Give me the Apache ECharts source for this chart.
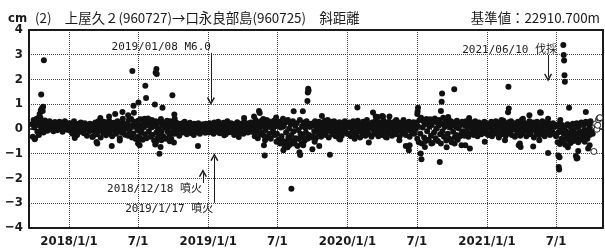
<!DOCTYPE html>
<html>
<head>
<meta charset="utf-8">
<script src="https://cdn.jsdelivr.net/npm/echarts@6.0.0/dist/echarts.min.js"></script>
<style>
html,body{margin:0;padding:0;background:#fff}
#main{width:605px;height:249px}
</style>
</head>
<body>
<div id="main"></div>
<script>
// 斜距離の変化 (cm)、2日おきの値を年ごとに
var start2017 = '2017-09-26';
var band2017 = [.18,-.32,.35,.05,-.38,.22,.41,-.12,.3,-.25,.12,.45,-.05,.28,.1,-.15,.2,.33,.02,.15,
  -.08,.25,.12,.3,-.02,.18,.08,.22,-.1,.15,.27,.05,.12,-.06,.2,.1,.28,.0,.16,.24,
  -.12,.08,.18,.3,.02,.14,-.04,.22,.1];
var start2018 = '2018-01-02';
var band2018 = [.12,-.08,.22,.05,-.2,.15,.3,-.1,.08,.18,-.25,.02,.2,.1,-.12,.25,-.05,.14,.06,-.18,.22,.0,.1,-.28,.16,.04,-.1,.2,.12,-.02,
  .08,-.3,.18,-.12,.25,.02,-.22,.12,.3,-.08,.05,-.35,.2,.1,-.15,.28,-.04,.14,-.26,.06,.22,-.1,.32,-.18,.0,.15,-.3,.1,.24,-.06,
  .18,-.2,.04,.3,-.12,.12,-.38,.2,.06,-.16,.26,-.08,.16,-.24,.1,.02,
  .2,-.28,.35,-.1,.05,.4,-.35,.15,-.2,.28,.1,-.42,.22,-.05,.32,-.3,.12,.38,-.15,.0,-.45,.25,.08,-.22,.3,-.38,.15,.42,-.1,.2,
  -.32,.05,.35,-.25,.18,-.48,.1,.3,-.15,.22,-.36,.02,.28,-.2,.4,-.1,.15,-.3,.25,.05,-.4,.18,.32,-.12,.08,-.25,.3,.1,-.18,.22,-.05,
  .15,-.2,.08,.25,-.12,.02,.2,-.28,.1,.18,-.05,.22,-.15,.06,.28,-.1,.12,-.22,.04,.18,-.08,.24,.0,-.18,.14,.08,-.25,.2,.1,-.06,
  .16,-.14,.22,.02,-.2,.12,.05,-.1,.18,-.02,.1,-.16,.2,.06,-.08];
var start2019 = '2019-01-01';
var band2019 = [.1,-.15,.22,.05,-.08,.18,.02,-.2,.25,.12,-.05,.15,-.12,.28,.06,-.18,.1,.2,-.1,.04,.24,-.06,.14,-.22,.08,.3,-.02,.16,-.14,.1,
  .22,-.08,.02,.18,-.25,.12,.06,-.12,.26,.0,.15,-.18,.08,.2,-.04,.12,-.2,.28,.05,-.1,.16,.1,-.15,.22,-.02,.08,.25,-.12,.14,.0,
  .2,-.3,.35,-.1,.12,-.38,.25,.05,-.22,.3,-.15,.1,.4,-.28,.18,-.05,.22,-.35,.08,.3,-.2,.15,-.4,.25,.02,-.12,.32,-.25,.1,.2,
  -.2,.15,-.45,.28,-.6,.05,-.3,.2,-.5,.1,-.7,.25,-.15,-.55,.32,-.35,.0,-.65,.18,-.25,-.48,.3,-.1,-.58,.12,-.38,.22,-.7,-.05,-.42,
  .35,-.2,-.62,.1,-.3,.25,-.5,.05,-.15,.3,-.4,.18,-.25,.08,-.35,.2,
  .12,-.3,.22,-.1,.3,-.38,.05,.18,-.2,.28,-.05,.15,-.32,.1,.25,-.15,.02,.32,-.25,.12,-.08,.2,-.35,.06,.28,-.12,.18,-.22,.1,.3,
  -.05,-.3,.15,.22,-.18,.04,.26,-.1,.14,-.28,.2,.08,-.15,.3,-.04,.12,-.2];
var start2020 = '2020-01-02';
var band2020 = [.15,-.2,.25,.05,-.3,.18,-.08,.3,.1,-.15,.22,-.25,.08,.32,-.1,.14,-.35,.2,.02,-.18,.28,-.05,.12,-.28,.22,.35,-.12,.06,-.22,.18,
  .1,-.32,.25,-.02,.15,-.2,.3,.04,-.14,.2,-.3,.12,.26,-.08,.18,-.25,.05,.32,-.15,.1,.22,-.35,.08,-.05,.28,-.2,.14,.02,-.28,.24,
  .1,-.12,.3,-.22,.06,.18,-.08,.25,-.3,.12,.0,.2,-.18,.35,-.1,.08,-.25,.22,.15,-.05,.28,-.32,.1,.2,-.15,.04,.26,-.2,.12,-.02,
  .25,-.4,.1,-.55,.35,-.2,.45,-.6,.05,.3,-.35,.18,-.5,.4,-.1,.22,-.45,.08,.38,-.28,.15,-.58,.3,-.15,.42,-.38,.0,.25,-.5,.12,
  .35,-.22,-.6,.2,-.1,.45,-.32,.08,.28,-.48,.15,-.2,.38,-.4,.05,.3,-.55,.18,-.12,.25,-.35,.1,-.25,.32,-.45,.02,.2,-.3,.15,-.18,.28,
  -.1,.2,-.28,.12,.3,-.15,.05,-.32,.22,.08,-.2,.26,-.05,.15,-.25,.1,.3,-.12,.02,-.3,.18,.25,-.08,.12,-.22,.2,.05,-.15,.28,-.02,.1,-.2];
var start2021 = '2021-01-02';
var band2021 = [.1,-.25,.2,.05,-.15,.28,-.3,.12,.02,.22,-.1,.3,-.2,.08,.15,-.35,.25,-.05,.18,-.22,.1,.32,-.12,.04,-.28,.2,.14,-.08,.26,-.18,
  .06,.3,-.25,.12,-.02,.22,-.32,.15,.08,-.15,.28,-.1,.2,-.28,.05,.35,-.18,.1,.24,-.06,.16,-.3,.02,.2,-.12,.3,-.22,.08,.18,-.05,
  .25,-.35,.12,.04,-.2,.28,-.1,.15,-.26,.22,.06,-.15,.3,-.08,.1,-.3,.2,.14,-.18,.26,-.02,.12,-.25,.18,.05,-.12,.22,-.2,.08,.15,
  -.3,.1,-.55,-.15,.2,-.62,-.05,-.4,.15,-.5,-.2,.05,-.65,-.1,-.35,.18,-.45,-.25,.1,-.58,
  -.08,-.3,.2,-.5,-.15,.05,-.4,.22,-.28,-.55,.1,-.12,-.35,.25,-.2,-.45,.15,-.05,-.3,.28,
  -.15,-.4,.2,.0,-.25,.3,-.1,.15,-.2];

// 飛び値
var outliers = [
  ['2017-10-03',-.43],['2017-10-13',.45],['2017-10-16',.6],['2017-10-19',.75],['2017-10-20',1.39],['2017-10-22',.83],
  ['2017-10-24',.72],['2017-10-25',.89],['2017-10-27',2.77],
  ['2018-01-16',-.37],['2018-03-14',-.54],['2018-03-16',-.6],['2018-03-24',.44],['2018-04-16',.5],['2018-04-23',-.7],
  ['2018-05-02',.6],['2018-05-14',-.48],['2018-05-21',.68],['2018-06-16',2.34],['2018-06-19',.93],['2018-06-20',.65],
  ['2018-07-02',1.06],['2018-07-05',-.67],['2018-07-20',1.74],['2018-07-22',1.25],['2018-08-14',.98],['2018-08-16',2.27],
  ['2018-08-17',-.55],['2018-08-18',2.42],['2018-08-19',2.22],['2018-08-26',-1.01],['2018-08-29',-.74],['2018-09-03',.85],
  ['2018-09-22',-.51],['2018-09-29',1.36],['2018-10-03',-.56],['2018-10-04',.58],['2018-12-05',-.7],
  ['2019-05-01',.5],['2019-05-14',.72],['2019-05-16',.64],['2019-05-27',-.67],['2019-05-29',-1.08],['2019-06-28',.46],
  ['2019-07-17',-.87],['2019-07-28',-.75],['2019-08-07',-2.43],['2019-08-13',.71],['2019-08-28',-.95],['2019-08-30',-1.06],
  ['2019-09-06',.71],['2019-09-18',1.12],['2019-09-19',1.47],['2019-09-20',1.62],['2019-09-21',1.55],['2019-10-01',-.83],
  ['2019-10-19',-.7],['2019-11-16',-1.05],['2019-12-13',-.44],
  ['2020-01-27',.86],['2020-02-26',-.56],['2020-03-08',.66],['2020-03-15',.5],['2020-04-01',.52],['2020-04-20',.5],
  ['2020-06-02',-.7],['2020-06-10',-.87],['2020-07-02',.6],['2020-07-03',.7],['2020-07-04',.85],['2020-07-11',-1.0],
  ['2020-07-13',-1.24],['2020-08-30',-1.35],['2020-09-02',.72],['2020-09-04',1.09],['2020-09-05',1.43],['2020-09-17',-.75],
  ['2020-10-07',1.6],['2020-10-26',-.67],['2020-11-05',-.67],['2020-11-15',.44],['2020-11-17',-.8],
  ['2021-02-25',.67],['2021-02-26',1.7],['2021-02-27',.82],['2021-03-25',-.67],['2021-03-28',-.6],['2021-03-30',-.74],
  ['2021-04-22',.55],['2021-05-02',-.72],['2021-05-20',.67],['2021-05-22',.65],['2021-06-10',-.98],
  ['2021-07-07',-1.08],['2021-07-08',-1.55],['2021-07-09',-1.65],['2021-07-10',-1.15],
  ['2021-07-20',3.39],['2021-07-21',2.99],['2021-07-22',2.76],['2021-07-23',2.17],['2021-07-24',1.9],
  ['2021-08-04',.85],['2021-08-22',-1.1],['2021-08-24',-1.2],['2021-08-26',-1.18],['2021-09-17',.68],['2021-09-23',-.8]
];
// 帯の縁のばらつき
var edgeDots = [
  ['2018-03-03',-.33],['2018-05-22',.41],['2018-06-05',.55],['2018-07-01',-.6],['2018-07-08',-.4],['2018-07-18',.41],
  ['2018-07-25',.37],['2018-08-15',-.64],['2018-08-31',-.47],['2018-09-26',-.4],['2018-10-05',.41],
  ['2019-02-12',-.26],['2019-04-05',.44],['2019-03-22',-.33],['2019-05-30',-.47],['2019-06-03',.35],['2019-06-29',-.53],
  ['2019-07-16',.41],['2019-07-24',-.53],['2019-07-29',.35],['2019-08-15',-.6],['2019-09-07',-.67],['2019-10-07',-.53],
  ['2019-10-26',.52],['2019-11-10',.35],['2019-12-10',-.4],
  ['2020-01-20',-.4],['2020-03-21',.48],['2020-04-03',.5],['2020-04-10',-.33],['2020-05-08',.35],['2020-05-16',-.47],
  ['2020-06-12',-.67],['2020-07-22',.35],['2020-07-22',-.74],['2020-08-08',-.6],['2020-08-21',.35],['2020-09-21',.48],
  ['2020-10-08',-.6],['2020-12-26',-.53],
  ['2021-02-08',.35],['2021-02-17',-.47],['2021-04-05',.41],['2021-05-18',-.47],['2021-06-10',.41],['2021-07-12',.35],
  ['2021-08-01',-.75],['2021-08-28',-.9],['2021-09-14',-.53],['2021-09-27',-.67]
];
// 速報値 (白抜き)
var provisional = [
  ['2021-10-08',-.92],['2021-10-11',.1],['2021-10-13',.2],['2021-10-16',-.02],['2021-10-18',.14],
  ['2021-10-20',.37],['2021-10-22',.43],['2021-10-24',.45]
];

var tickDates = ['2018-01-01','2018-07-01','2019-01-01','2019-07-01','2020-01-01','2020-07-01','2021-01-01','2021-07-01'];
var tickLabels = ['2018/1/1','7/1','2019/1/1','7/1','2020/1/1','7/1','2021/1/1','7/1'];

var eventDates = ['2019-01-08','2018-12-18','2019-01-17','2021-06-10'];
var eventLabels = ['2019/01/08 M6.0','2018/12/18 噴火','2019/1/17 噴火','2021/06/10 伐採'];

var titleMain = '(2)\u3000上屋久２(960727)→口永良部島(960725)\u3000斜距離';
var titleBase = '基準値：22910.700m';

function ts(s) {
  var p = s.split('-');
  return Date.UTC(+p[0], p[1] - 1, +p[2]);
}
function stepped(start, vals) {
  var t0 = ts(start);
  return vals.map(function (v, i) { return [t0 + i * 2 * 86400000, v]; });
}
function dated(list) {
  return list.map(function (d) { return [ts(d[0]), d[1]]; });
}

var bandData = [].concat(
  stepped(start2017, band2017), stepped(start2018, band2018), stepped(start2019, band2019),
  stepped(start2020, band2020), stepped(start2021, band2021), dated(edgeDots));
var outlierData = dated(outliers);
var provData = dated(provisional);
var tickTs = tickDates.map(ts);
var xMin = ts('2017-09-18'), xMax = ts('2021-11-01');

var NARROW = "'Liberation Sans Narrow','DejaVu Sans Condensed','Liberation Sans',sans-serif";
var MONO = "'DejaVu Sans Mono','Noto Sans CJK JP',monospace";
var JP = "'Noto Sans CJK JP',sans-serif";
var INK = '#1a1a1a';
var DOT = [1, 1];

// 矢印と注記の置き場所 (縦は cm)
var evLayout = [
  { from: 3.07, to: 1.12, text: 3.31, dx: 0 },
  { from: -2.2, to: -1.8, text: -2.46, dx: -1 },
  { from: -3.0, to: -1.15, text: -3.27, dx: -1 },
  { from: 2.99, to: 2.08, text: 3.19, dx: 9 }
];
var chevron = 'path://M5,0L10,7.5L8.6,8.5L5,3.2L1.4,8.5L0,7.5Z';

var myChart = echarts.init(document.getElementById('main'));
var option = {
  animation: false,
  textStyle: { fontFamily: JP },
  title: [
    { text: 'cm', left: 8, top: 12, padding: 0, textStyle: { fontSize: 13, fontWeight: 'bold', fontFamily: NARROW, color: INK } },
    { text: titleMain, left: 35, top: 11, padding: 0, textStyle: { fontSize: 13.4, fontWeight: 'normal', fontFamily: JP, color: INK } },
    { text: titleBase, right: 5, top: 11, padding: 0, textStyle: { fontSize: 13.4, fontWeight: 'normal', fontFamily: JP, color: INK } }
  ],
  grid: { left: 29, right: 2, top: 30, bottom: 21.5, containLabel: false, outerBoundsMode: 'none' },
  xAxis: [
    {
      type: 'value', min: xMin, max: xMax, scale: true,
      axisLine: { show: true, onZero: false, lineStyle: { color: INK, width: 2 } },
      axisTick: { show: false, customValues: tickTs },
      axisLabel: {
        customValues: tickTs, margin: 8, hideOverlap: false,
        fontSize: 13, fontWeight: 'bold', fontFamily: NARROW, color: INK,
        formatter: function (v) {
          var i = tickTs.indexOf(v);
          return i >= 0 ? tickLabels[i] : '';
        }
      },
      splitLine: { show: true, lineStyle: { type: DOT, color: '#444', width: 1 } }
    },
    {
      type: 'value', position: 'top', min: xMin, max: xMax, scale: true,
      axisLine: { show: true, onZero: false, lineStyle: { color: INK, width: 2 } },
      axisTick: { show: false }, axisLabel: { show: false }, splitLine: { show: false }
    }
  ],
  yAxis: [
    {
      type: 'value', min: -4, max: 4, interval: 1, position: 'left',
      axisLine: { show: false }, axisTick: { show: false },
      axisLabel: {
        margin: 6, fontSize: 13, fontWeight: 'bold', fontFamily: NARROW, color: INK,
        formatter: function (v) { return v < 0 ? '\u2212' + Math.abs(v) : String(v); }
      },
      splitLine: { show: true, lineStyle: { type: DOT, color: '#444', width: 1 } }
    },
    {
      type: 'value', min: -4, max: 4, position: 'left',
      axisLine: { show: true, onZero: false, lineStyle: { color: INK, width: 2 } },
      axisTick: { show: true, inside: true, length: 4, customValues: [0], lineStyle: { color: INK, width: 1.5 } },
      axisLabel: { show: false }, splitLine: { show: false }
    },
    {
      type: 'value', min: -4, max: 4, position: 'right',
      axisLine: { show: true, onZero: false, lineStyle: { color: INK, width: 2 } },
      axisTick: { show: true, inside: true, length: 4, customValues: [0], lineStyle: { color: INK, width: 1.5 } },
      axisLabel: { show: false }, splitLine: { show: false }
    }
  ],
  series: [
    {
      type: 'scatter', silent: true, symbolSize: 6,
      itemStyle: { color: '#111', opacity: 1 }, data: bandData
    },
    {
      type: 'scatter', silent: true, symbolSize: 6,
      itemStyle: { color: '#111', opacity: 1 }, data: outlierData,
      markLine: {
        silent: true, symbol: ['none', chevron], symbolSize: 8,
        lineStyle: { color: INK, width: 1, type: 'solid', opacity: 1 },
        itemStyle: { color: INK },
        label: { show: false },
        data: eventDates.map(function (d, i) {
          return [{ coord: [ts(d), evLayout[i].from] }, { coord: [ts(d), evLayout[i].to] }];
        })
      },
      markPoint: {
        silent: true, symbol: 'circle', symbolSize: 1,
        itemStyle: { color: 'rgba(0,0,0,0)' },
        label: { show: true, position: 'inside', align: 'right', verticalAlign: 'middle', formatter: '{b}', fontSize: 11, fontFamily: MONO, color: INK },
        data: eventDates.map(function (d, i) {
          return { name: eventLabels[i], coord: [ts(d), evLayout[i].text], label: { offset: [evLayout[i].dx, 0] } };
        })
      }
    },
    {
      type: 'scatter', silent: true, symbol: 'circle', symbolSize: 6,
      itemStyle: { color: '#fff', borderColor: '#222', borderWidth: 1, opacity: 1 }, data: provData
    }
  ]
};
myChart.setOption(option);
</script>
</body>
</html>
